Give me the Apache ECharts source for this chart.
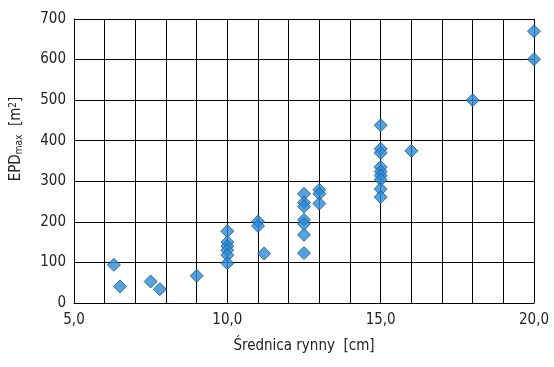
<!DOCTYPE html>
<html>
<head>
<meta charset="utf-8">
<script src="https://cdn.jsdelivr.net/npm/echarts@6/dist/echarts.min.js"></script>
<style>
html, body { margin: 0; padding: 0; background: #fff; }
#chart { width: 554px; height: 367px; }
</style>
</head>
<body>
<div id="chart"></div>
<script>
// średnica rynny [cm]
const diam = [6.3, 6.5, 7.5, 7.8, 9.0,
  10, 10, 10, 10, 10, 10,
  11, 11, 11.2,
  12.5, 12.5, 12.5, 12.5, 12.5, 12.5, 12.5,
  13, 13, 13,
  15, 15, 15, 15, 15, 15, 15, 15, 15,
  16, 18, 20, 20];
// EPD max [m2]
const epd = [94, 41, 53, 34, 67,
  177, 150, 140, 130, 118, 98,
  201, 190, 122,
  269, 248, 238, 205, 195, 168, 123,
  279, 269, 245,
  438, 380, 370, 335, 324, 314, 304, 281, 261,
  375, 500, 670, 601];
const xLabels = [5, 10, 15, 20];

const font = '"Liberation Sans Narrow", "DejaVu Sans Condensed", sans-serif';

let myEchart = echarts.init(document.getElementById('chart'));
myEchart.setOption({
  animation: false,
  grid: { left: 74, right: 20, top: 19, bottom: 64 },
  xAxis: {
    type: 'value',
    min: 5, max: 20, interval: 1,
    name: 'Średnica rynny  [cm]',
    nameLocation: 'middle',
    nameGap: 36,
    nameTextStyle: { fontFamily: font, fontSize: 15, color: '#222' },
    axisLine: { lineStyle: { color: '#000' } },
    axisTick: { show: false },
    splitLine: { lineStyle: { color: '#000', width: 1 } },
    axisLabel: {
      fontFamily: font, fontSize: 15, color: '#222', margin: 10,
      formatter: v => xLabels.includes(v) ? v.toFixed(1).replace('.', ',') : ''
    }
  },
  yAxis: {
    type: 'value',
    min: 0, max: 700, interval: 100,
    name: '{g|}{n|EPD}{s|max}{n|  [m}{p|2}{n|]}',
    nameLocation: 'middle',
    nameGap: 50,
    nameRotate: 90,
    nameTextStyle: {
      color: '#222',
      rich: {
        g: { width: 44 },
        n: { fontFamily: font, fontSize: 15, color: '#222' },
        s: { fontFamily: font, fontSize: 10, color: '#222', verticalAlign: 'bottom', padding: [6, 0, 0, 0] },
        p: { fontFamily: font, fontSize: 10, color: '#222', verticalAlign: 'top', padding: [0, 0, 6, 0] }
      }
    },
    axisLine: { show: true, lineStyle: { color: '#000' } },
    axisTick: { show: false },
    splitLine: { lineStyle: { color: '#000', width: 1 } },
    axisLabel: { fontFamily: font, fontSize: 15, color: '#222', margin: 8 }
  },
  series: [{
    type: 'scatter',
    symbol: 'diamond',
    symbolSize: 13,
    data: diam.map((d, i) => [d, epd[i]]),
    itemStyle: { color: '#2a8bd3', borderColor: '#1d5691', borderWidth: 1 }
  }]
});
window.addEventListener('resize', function () {
  myEchart.resize();
});
</script>
</body>
</html>
